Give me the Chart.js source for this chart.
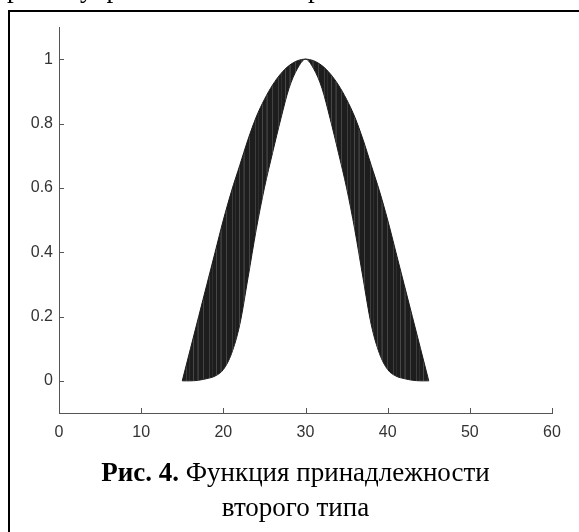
<!DOCTYPE html>
<html>
<head>
<meta charset="utf-8">
<script src="https://cdn.jsdelivr.net/npm/chart.js@4"></script>
<style>
  body { margin: 0; background: #fff; }
  #wrap { position: relative; width: 579px; height: 532px; overflow: hidden; }
  #frame { position: absolute; left: 8px; top: 10px; width: 700px; height: 700px; border-left: 2px solid #000; border-top: 2px solid #000; }
  canvas { position: absolute; left: 0; top: 0; }
  .cap { position: absolute; left: 0; width: 591px; text-align: center; font-family: "Liberation Serif", serif; font-size: 27px; line-height: 27px; color: #000; white-space: nowrap; }
</style>
</head>
<body>
<div id="wrap">
  <div id="frame"></div>
  <canvas id="myChart" width="579" height="532"></canvas>
  <div class="cap" style="top:459px"><b>Рис. 4.</b> Функция принадлежности</div>
  <div class="cap" style="top:494px">второго типа</div>
</div>
<script>
const xValues = [15, 16, 17, 18, 19, 20, 21, 22, 23, 24, 25, 26, 27, 28, 29, 30,
                 31, 32, 33, 34, 35, 36, 37, 38, 39, 40, 41, 42, 43, 44, 45];
// upper membership function (outer edge)
const upperMF = [0, 0.10, 0.20, 0.30, 0.40, 0.50, 0.59, 0.67, 0.75, 0.82, 0.875, 0.92, 0.955, 0.98, 0.995, 1,
                 0.995, 0.98, 0.955, 0.92, 0.875, 0.82, 0.75, 0.67, 0.59, 0.50, 0.40, 0.30, 0.20, 0.10, 0];
// lower membership function (inner edge)
const lowerMF = [0, 0, 0.002, 0.007, 0.015, 0.035, 0.085, 0.175, 0.32, 0.47, 0.60, 0.71, 0.815, 0.91, 0.97, 1,
                 0.97, 0.91, 0.815, 0.71, 0.60, 0.47, 0.32, 0.175, 0.085, 0.035, 0.015, 0.007, 0.002, 0, 0];
const xTicks = [0, 10, 20, 30, 40, 50, 60];
const yTicks = [0, 0.2, 0.4, 0.6, 0.8, 1];

const ctx = document.getElementById("myChart").getContext("2d");

// dark fill with thin vertical streaks, like the original raster
const tile = document.createElement("canvas");
tile.width = 23;
tile.height = 1;
const tctx = tile.getContext("2d");
tctx.fillStyle = "#1d1d1d";
tctx.fillRect(0, 0, 23, 1);
[[2, "#3d3d3d"], [5, "#2e2e2e"], [9, "#474747"], [13, "#333333"], [14, "#3a3a3a"], [19, "#444444"]].forEach(function (s) {
  tctx.fillStyle = s[1];
  tctx.fillRect(s[0], 0, 1, 1);
});
const stripes = ctx.createPattern(tile, "repeat");

function toPoints(ys) {
  return xValues.map(function (x, i) { return { x: x, y: ys[i] }; });
}

const tickFont = { family: "'Liberation Sans', Arial, sans-serif", size: 16 };

// ticks pointing into the plot area + descenders of the text line above the figure
const innerTicks = {
  id: "innerTicks",
  afterDraw(chart) {
    const c = chart.ctx, xs = chart.scales.x, ys = chart.scales.y, a = chart.chartArea;
    c.save();
    c.strokeStyle = "#555";
    c.lineWidth = 1;
    c.beginPath();
    xTicks.forEach(function (v) {
      const p = Math.round(xs.getPixelForValue(v)) + 0.5;
      c.moveTo(p, a.bottom);
      c.lineTo(p, a.bottom - 5);
    });
    yTicks.forEach(function (v) {
      const p = Math.round(ys.getPixelForValue(v)) + 0.5;
      c.moveTo(a.left, p);
      c.lineTo(a.left + 5, p);
    });
    c.stroke();

    c.fillStyle = "#000";
    c.font = "27px 'Liberation Serif', serif";
    c.textBaseline = "alphabetic";
    c.textAlign = "left";
    c.fillText("р", 7, -3);
    c.fillText("у", 80, -3);
    c.fillText("р", 106.5, -3);
    c.fillText("р", 308, -3);
    c.restore();
  },
};

new Chart(ctx, {
  type: "line",
  data: {
    datasets: [
      {
        label: "upper",
        data: toPoints(upperMF),
        borderColor: "#1a1a1a",
        borderWidth: 1,
        backgroundColor: stripes,
        fill: "+1",
        pointRadius: 0,
        cubicInterpolationMode: "monotone",
      },
      {
        label: "lower",
        data: toPoints(lowerMF),
        borderColor: "#1a1a1a",
        borderWidth: 1,
        fill: false,
        pointRadius: 0,
        cubicInterpolationMode: "monotone",
      },
    ],
  },
  options: {
    responsive: false,
    animation: false,
    events: [],
    layout: { padding: { left: 0, top: 27, right: 27, bottom: 89 } },
    scales: {
      x: {
        type: "linear",
        min: 0,
        max: 60,
        afterFit: function (s) { s.height = 30; },
        afterBuildTicks: function (s) { s.ticks = xTicks.map(function (v) { return { value: v }; }); },
        ticks: {
          padding: 10,
          color: "#333",
          font: tickFont,
          maxRotation: 0,
          autoSkip: false,
          callback: function (v) { return String(v); },
        },
        grid: { display: false, drawTicks: false },
        border: { color: "#555", width: 1 },
      },
      y: {
        type: "linear",
        min: -0.1,
        max: 1.1,
        afterFit: function (s) { s.width = 59; },
        afterBuildTicks: function (s) { s.ticks = yTicks.map(function (v) { return { value: v }; }); },
        ticks: {
          padding: 6,
          color: "#333",
          font: tickFont,
          autoSkip: false,
          callback: function (v) { return String(Math.round(v * 10) / 10); },
        },
        grid: { display: false, drawTicks: false },
        border: { color: "#555", width: 1 },
      },
    },
    plugins: {
      legend: { display: false },
      tooltip: { enabled: false },
    },
  },
  plugins: [innerTicks],
});
</script>
</body>
</html>
